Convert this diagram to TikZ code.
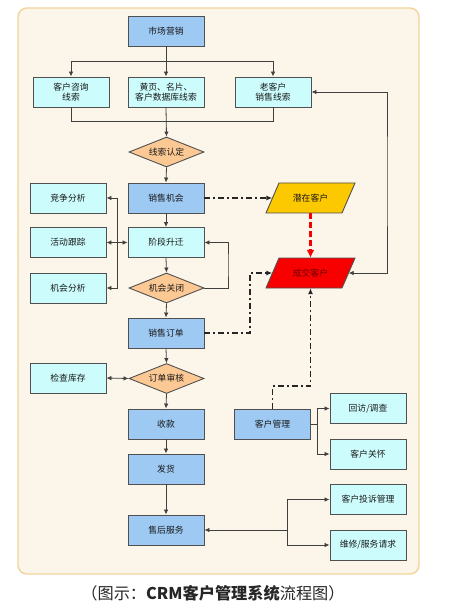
\documentclass[tikz,border=0pt]{standalone}
\usepackage{fontspec}
\newfontfamily\cjk{Noto Sans CJK SC}
\usetikzlibrary{shapes.geometric,arrows.meta,calc}
\definecolor{frameb}{HTML}{F2D49A}
\definecolor{framef}{HTML}{FCF5EA}
\definecolor{bluef}{HTML}{9DC9F3}
\definecolor{cyanf}{HTML}{CCFCFC}
\definecolor{diaf}{HTML}{FCC994}
\definecolor{yelf}{HTML}{FCC800}
\definecolor{redf}{HTML}{F80000}
\definecolor{edge}{HTML}{505050}
\definecolor{linec}{HTML}{404040}
\begin{document}
\begin{tikzpicture}[x=1pt,y=-1pt,
  font=\cjk\fontsize{8.8}{10.5}\selectfont,
  basebox/.style={draw=edge,line width=0.9pt,minimum width=76pt,minimum height=30pt,inner sep=1pt,align=center,text=black!90},
  bluebox/.style={basebox,fill=bluef},
  cyanbox/.style={basebox,fill=cyanf},
  diabox/.style={diamond,draw=edge,line width=0.9pt,fill=diaf,minimum width=75pt,minimum height=30pt,aspect=2.5,inner sep=0pt,text=black!90},
  pbox/.style={minimum width=76pt,minimum height=30pt,inner sep=0pt},
  conn/.style={draw=linec,line width=0.8pt,-{Latex[length=5pt,width=4.5pt]}},
  line/.style={draw=linec,line width=0.8pt},
  dd/.style={draw=black!85,line width=1.6pt,dash pattern=on 6pt off 3pt on 2pt off 3pt,-{Latex[length=6pt,width=5pt]}},
  reddash/.style={draw=redf,line width=2.4pt,dash pattern=on 6pt off 3pt,-{Latex[length=8pt,width=8pt]}}
]
\useasboundingbox (0,0) rectangle (464,601);
\fill[white] (0,0) rectangle (464,601);
\draw[frameb,fill=framef,line width=1.4pt,rounded corners=9pt] (18,8) rectangle (419,574);

% parallelogram backgrounds
\draw[edge,line width=0.9pt,fill=yelf] (266,213) -- (342,213) -- (355,183) -- (279,183) -- cycle;
\draw[edge,line width=0.9pt,fill=redf] (266,288) -- (342,288) -- (355,258) -- (279,258) -- cycle;

% nodes
\node[bluebox] (mkt) at (166,31) {市场营销};
\node[cyanbox] (zx) at (71,92) {客户咨询\\线索};
\node[cyanbox] (hy) at (166,92) {黄页、名片、\\客户数据库线索};
\node[cyanbox] (lkh) at (273,92) {老客户\\销售线索};
\node[diabox] (xsrd) at (166.5,152) {线索认定};
\node[bluebox] (xsjh) at (166,198) {销售机会};
\node[cyanbox] (jzfx) at (68,198) {竞争分析};
\node[cyanbox] (hdgz) at (68,242.5) {活动跟踪};
\node[cyanbox] (jdsq) at (166,242.5) {阶段升迁};
\node[cyanbox] (jhfx) at (68,288) {机会分析};
\node[diabox] (jhgb) at (166.5,288) {机会关闭};
\node[bluebox] (xsdd) at (166,333) {销售订单};
\node[diabox] (ddsh) at (166.5,378.5) {订单审核};
\node[cyanbox] (jckc) at (68,378) {检查库存};
\node[bluebox] (sk) at (166,424) {收款};
\node[bluebox] (fh) at (166,469) {发货};
\node[bluebox] (shfw) at (166,530) {售后服务};
\node[bluebox] (khgl) at (272.5,424) {客户管理};
\node[cyanbox] (hf) at (368,408.5) {回访/调查};
\node[cyanbox] (khgh) at (368,454) {客户关怀};
\node[cyanbox] (khts) at (368,499.5) {客户投诉管理};
\node[cyanbox] (wx) at (368,545) {维修/服务请求};
\node[pbox,text=black!90] (qzkh) at (310.5,198) {潜在客户};
\node[pbox,text=red!40!black] (cjkh) at (310.5,273) {成交客户};

% helper coordinates
\coordinate (b1) at (166,61);
\coordinate (m1) at (166,121);
\coordinate (lb) at (117,242.5);
\coordinate (c1) at (228,265);
\coordinate (c2) at (250,300);
\coordinate (c3) at (290,386);
\coordinate (c4) at (387,180);
\coordinate (c5) at (317,424);
\coordinate (c6) at (287,530);

% top connectors
\draw[conn] (mkt.south) -- (hy.north);
\draw[conn] (b1) -| (zx.north);
\draw[conn] (b1) -| (lkh.north);
\draw[line] (zx.south) |- (m1);
\draw[line] (lkh.south) |- (m1);
\draw[conn] (hy.south) -- (xsrd.north);
\draw[conn] (xsrd.south) -- (xsjh.north);
\draw[conn] (xsjh.south) -- (jdsq.north);

% left bus
\draw[conn,{Latex[length=5pt,width=4.5pt]}-{Latex[length=5pt,width=4.5pt]}] (hdgz.east) -- (jdsq.west);
\draw[conn] (lb) |- (jzfx.east);
\draw[conn] (lb) |- (jhfx.east);

% loop
\draw[conn] (jdsq.south) -- (jhgb.north);
\draw[conn] (jhgb.east) -| (c1) |- (jdsq.east);
\draw[conn] (jhgb.south) -- (xsdd.north);
\draw[conn] (xsdd.south) -- (ddsh.north);
\draw[conn,{Latex[length=5pt,width=4.5pt]}-{Latex[length=5pt,width=4.5pt]}] (jckc.east) -- (ddsh.west);
\draw[conn] (ddsh.south) -- (sk.north);
\draw[conn] (sk.south) -- (fh.north);
\draw[conn] (fh.south) -- (shfw.north);

% customer side
\draw[dd] (xsjh.east) -- (qzkh.west);
\draw[reddash] (qzkh.south) -- (cjkh.north);
\draw[dd] (xsdd.east) -| (c2) |- (cjkh.west);
\draw[dd] (khgl.north) |- (c3) -| (cjkh.south);
\draw[conn,{Latex[length=5pt,width=4.5pt]}-{Latex[length=5pt,width=4.5pt]}] (cjkh.east) -| (c4) |- (lkh.east);

% right branches
\draw[line] (khgl.east) -- (c5);
\draw[conn] (c5) |- (hf.west);
\draw[conn] (c5) |- (khgh.west);
\draw[conn] (c6) -- (shfw.east);
\draw[conn] (c6) |- (khts.west);
\draw[conn] (c6) |- (wx.west);

% caption
\node[font=\cjk\fontsize{16.2}{18}\selectfont,text=black!85,inner sep=0pt] (cap) at (213,593) {（图示：{\bfseries CRM客户管理系统}流程图）};
\end{tikzpicture}
\end{document}
